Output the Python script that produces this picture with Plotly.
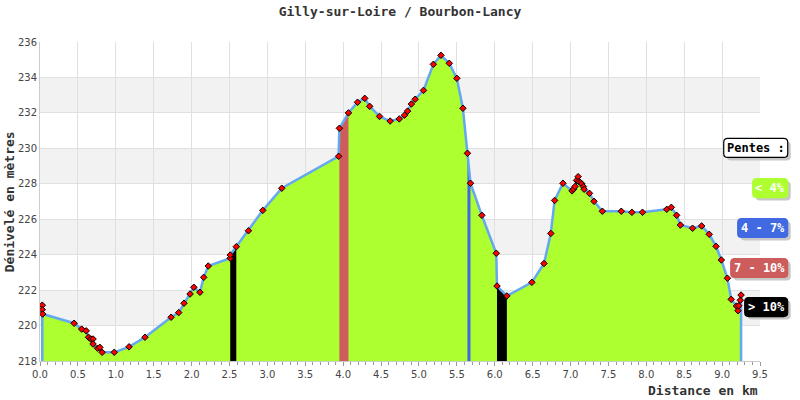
import plotly.graph_objects as go

# ---------------- data ----------------
title_text = "Gilly-sur-Loire / Bourbon-Lancy"
x_title = "Distance en km"
y_title = "Dénivelé en mètres"

dist_km = [0.03, 0.03, 0.035, 0.45, 0.55, 0.61, 0.64, 0.67, 0.70, 0.70,
           0.76, 0.79, 0.82, 0.98, 1.175, 1.385, 1.73, 1.83, 1.90, 1.98,
           2.03, 2.11, 2.16, 2.22, 2.51, 2.51, 2.59, 2.75, 2.94, 3.19,
           3.94, 3.95, 4.07, 4.19, 4.285, 4.35, 4.48, 4.62, 4.74, 4.81,
           4.85, 4.90, 4.95, 5.06, 5.19, 5.29, 5.40, 5.50, 5.58, 5.64,
           5.68, 5.83, 6.02, 6.03, 6.16, 6.49, 6.65, 6.74, 6.79, 6.90,
           7.02, 7.04, 7.06, 7.08, 7.10, 7.11, 7.13, 7.15, 7.17, 7.18,
           7.25, 7.31, 7.42, 7.67, 7.81, 7.95, 8.27, 8.33, 8.40, 8.45,
           8.61, 8.73, 8.83, 8.92, 8.99, 9.07, 9.12, 9.19, 9.21, 9.22,
           9.24, 9.25]
elev_m = [221.15, 220.9, 220.65, 220.13, 219.8, 219.7, 219.34, 219.24, 219.24, 218.96,
          218.72, 218.77, 218.49, 218.49, 218.8, 219.34, 220.47, 220.73, 221.26, 221.78,
          222.16, 221.88, 222.72, 223.36, 223.8, 223.98, 224.45, 225.35, 226.5, 227.75,
          229.55, 231.13, 232.0, 232.6, 232.82, 232.37, 231.8, 231.54, 231.66, 231.87,
          232.1, 232.5, 232.77, 233.27, 234.74, 235.25, 234.8, 233.95, 232.26, 229.72,
          228.03, 226.22, 224.08, 222.23, 221.67, 222.44, 223.5, 225.2, 227.06, 228.03,
          227.6, 227.7, 227.85, 228.19, 228.4, 228.12, 228.07, 227.99, 227.84, 227.69,
          227.46, 227.01, 226.45, 226.45, 226.39, 226.39, 226.56, 226.67, 226.22, 225.67,
          225.49, 225.62, 225.15, 224.47, 223.7, 222.67, 221.48, 221.1, 220.84, 221.12,
          221.43, 221.72]

# slope class of highlighted segments (segment start index -> class index)
steep_segment_index = [25, 31, 49, 53]
steep_segment_class = [3, 2, 1, 3]

class_labels = ["&lt; 4%", "4 - 7%", "7 - 10%", "&gt; 10%"]
class_colors = ["#ADFF2F", "#4169E1", "#CD5C5C", "#000000"]
legend_heading = "Pentes :"

x_range = [0, 9.5]
y_ticks = [218, 220, 222, 224, 226, 228, 230, 232, 234, 236]

# ---------------- figure ----------------
line_color = "#64A8F0"
fig = go.Figure()

fig.add_trace(go.Scatter(x=dist_km, y=elev_m, mode="lines", fill="tozeroy",
                         fillcolor=class_colors[0], line=dict(width=0, color=class_colors[0]),
                         hoverinfo="skip", showlegend=False))

for idx, cls in zip(steep_segment_index, steep_segment_class):
    fig.add_trace(go.Scatter(x=dist_km[idx:idx + 2], y=elev_m[idx:idx + 2], mode="lines",
                             fill="tozeroy", fillcolor=class_colors[cls],
                             line=dict(width=0, color=class_colors[cls]),
                             hoverinfo="skip", showlegend=False))

y0 = y_ticks[0]
fig.add_trace(go.Scatter(x=[dist_km[0]] + dist_km + [dist_km[-1]],
                         y=[y0] + elev_m + [y0], mode="lines",
                         line=dict(width=2.5, color=line_color),
                         hoverinfo="skip", showlegend=False))

fig.add_trace(go.Scatter(x=dist_km, y=elev_m, mode="markers",
                         marker=dict(symbol="diamond", size=5, color="#FF0000",
                                     line=dict(width=1, color="#000000")),
                         showlegend=False))

shapes = []
for i in range(1, len(y_ticks) - 1, 2):
    shapes.append(dict(type="rect", xref="paper", x0=0, x1=1, yref="y",
                       y0=y_ticks[i], y1=y_ticks[i + 1], fillcolor="#F2F2F2",
                       line=dict(width=0), layer="below"))

mono = "DejaVu Sans Mono"
annotations = [
    dict(text="<b>%s</b>" % x_title, xref="paper", yref="paper", x=1.0, y=-0.091,
         xanchor="right", yanchor="middle", showarrow=False,
         font=dict(family=mono, size=13, color="#333333")),
    dict(text="<b>%s</b>" % y_title, xref="paper", yref="paper", x=-0.042, y=0.5,
         xanchor="center", yanchor="middle", textangle=-90, showarrow=False,
         font=dict(family=mono, size=13, color="#333333")),
]


def rounded_path(x0, y0, x1, y1, r):
    return (f"M {x0 + r},{y0} L {x1 - r},{y0} Q {x1},{y0} {x1},{y0 + r} "
            f"L {x1},{y1 - r} Q {x1},{y1} {x1 - r},{y1} L {x0 + r},{y1} "
            f"Q {x0},{y1} {x0},{y1 - r} L {x0},{y0 + r} Q {x0},{y0} {x0 + r},{y0} Z")


leg_x = 1.0385
leg_y = [0.668, 0.542, 0.417, 0.2915, 0.169]
leg_w = [64, 35, 50, 57, 43]
leg_h = 19
leg_texts = [legend_heading] + class_labels
leg_bg = ["#FFFFFF"] + class_colors
leg_border = ["#000000"] + class_colors
leg_font = ["#000000"] + ["#FFFFFF"] * len(class_labels)
for t, yy, w, bg, bc, fc in zip(leg_texts, leg_y, leg_w, leg_bg, leg_border, leg_font):
    shapes.append(dict(type="path", xref="paper", yref="paper", xsizemode="pixel",
                       ysizemode="pixel", xanchor=leg_x, yanchor=yy,
                       path=rounded_path(-w + 3, -leg_h / 2 - 3, 3, leg_h / 2 - 3, 4),
                       fillcolor="#C8C8C8", line=dict(width=0), layer="above"))
    shapes.append(dict(type="path", xref="paper", yref="paper", xsizemode="pixel",
                       ysizemode="pixel", xanchor=leg_x, yanchor=yy,
                       path=rounded_path(-w, -leg_h / 2, 0, leg_h / 2, 4),
                       fillcolor=bg, line=dict(width=1.2, color=bc), layer="above"))
    annotations.append(dict(text="<b>%s</b>" % t, xref="paper", yref="paper", x=leg_x, y=yy,
                            xanchor="center", yanchor="middle", xshift=-w / 2, showarrow=False,
                            font=dict(family=mono, size=12, color=fc)))

fig.update_layout(
    width=800, height=400,
    margin=dict(l=40, r=40, t=42, b=39),
    paper_bgcolor="#FFFFFF", plot_bgcolor="#FFFFFF",
    title=dict(text="<b>%s</b>" % title_text, x=0.5, xanchor="center",
               y=1 - 11 / 400, yanchor="middle", yref="container",
               font=dict(family=mono, size=13, color="#333333")),
    shapes=shapes, annotations=annotations,
    xaxis=dict(range=x_range, dtick=0.5, tick0=0, tickformat=".1f",
               showgrid=True, gridcolor="#E0E0E0", gridwidth=1,
               showline=True, linecolor="#CCCCCC", linewidth=1,
               ticks="outside", ticklen=4, tickcolor="#999999",
               minor=dict(dtick=0.1, ticks="outside", ticklen=3, tickcolor="#999999", showgrid=False),
               tickfont=dict(family="DejaVu Sans", size=10, color="#444444"),
               zeroline=False, fixedrange=True),
    yaxis=dict(range=[y_ticks[0], y_ticks[-1]], tickvals=y_ticks,
               showgrid=True, gridcolor="#E0E0E0", gridwidth=1,
               showline=True, linecolor="#CCCCCC", linewidth=1,
               ticks="", tickfont=dict(family="DejaVu Sans", size=10, color="#444444"),
               zeroline=False, fixedrange=True),
)

fig.write_html("out.html", config={"displayModeBar": False},
               post_script="document.body.style.margin='0px';")
